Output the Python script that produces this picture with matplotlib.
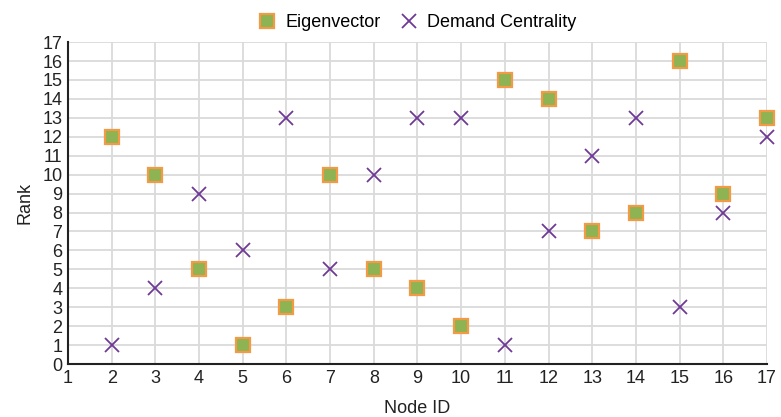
import matplotlib
matplotlib.use("Agg")
import matplotlib.pyplot as plt

node_ids = [2, 3, 4, 5, 6, 7, 8, 9, 10, 11, 12, 13, 14, 15, 16, 17]
eigenvector = [12, 10, 5, 1, 3, 10, 5, 4, 2, 15, 14, 7, 8, 16, 9, 13]
demand_centrality = [1, 4, 9, 6, 13, 5, 10, 13, 13, 1, 7, 11, 13, 3, 8, 12]

plt.rcParams['font.family'] = ['Liberation Sans', 'DejaVu Sans']

fig = plt.figure(figsize=(7.81, 4.17), dpi=100)
ax = fig.add_axes([0.087, 0.127, 0.895, 0.772])

ax.plot(node_ids, eigenvector, linestyle='none', marker='s', markersize=9.5,
        markerfacecolor='#8DB352', markeredgecolor='#F39A45', markeredgewidth=1.6,
        label='Eigenvector', clip_on=False, zorder=3)
ax.plot(node_ids, demand_centrality, linestyle='none', marker='x', markersize=9.5,
        color='#6E3A96', markeredgewidth=1.3, label='Demand Centrality',
        clip_on=False, zorder=3)

ax.set_xlim(1, 17)
ax.set_ylim(0, 17)
ax.set_xticks(range(1, 18))
ax.set_yticks(range(0, 18))
ax.grid(True, color='#DADADA', linewidth=1.3)
ax.set_axisbelow(True)
ax.tick_params(length=0, labelsize=13, colors='#222222', pad=4)

for side in ['top', 'right']:
    ax.spines[side].set_visible(False)
for side in ['left', 'bottom']:
    ax.spines[side].set_color('#222222')
    ax.spines[side].set_linewidth(1.5)

ax.set_xlabel('Node ID', fontsize=13, color='#222222', labelpad=10)
ax.set_ylabel('Rank', fontsize=13, color='#222222', labelpad=6)

ax.legend(loc='lower center', bbox_to_anchor=(0.5, 1.0), ncol=2, frameon=False,
          fontsize=13, handlelength=1.0, handletextpad=0.5, columnspacing=1.1,
          borderaxespad=0.2)

fig.savefig('out.png', dpi=100)
